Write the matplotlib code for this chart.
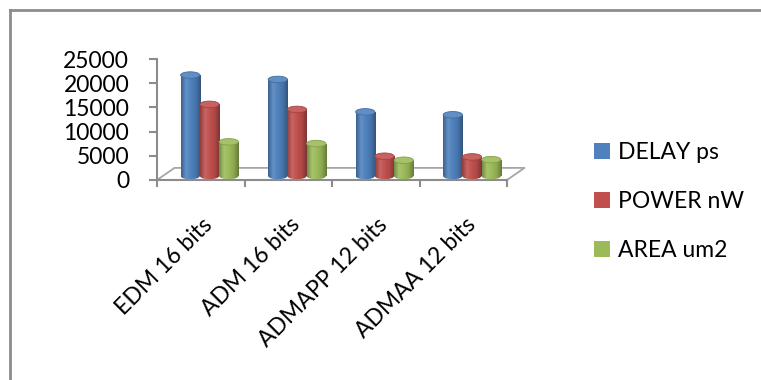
import numpy as np
import matplotlib.pyplot as plt
from matplotlib.colors import LinearSegmentedColormap, to_rgb
from matplotlib.patches import Ellipse
from matplotlib.lines import Line2D

plt.rcParams['font.family'] = ['Lato', 'DejaVu Sans']

# data
categories = ['EDM 16 bits', 'ADM 16 bits', 'ADMAPP 12 bits', 'ADMAA 12 bits']
series = ['DELAY ps', 'POWER nW', 'AREA um2']
delay = [20850, 19950, 13250, 12650]
power = [14800, 13750, 4080, 3940]
area = [7050, 6700, 3250, 3380]
values = [delay, power, area]
colors = ['#4F81BD', '#C0504D', '#9BBB59']
yticks = [0, 5000, 10000, 15000, 20000, 25000]

fig = plt.figure(figsize=(7.61, 3.80), dpi=100)
W, H = 761, 380
ax = fig.add_axes([157 / W, 1 - 180 / H, 350 / W, 121 / H])

ax.set_xlim(-0.5, len(categories) - 0.5)
ax.set_ylim(0, 25000)

base = 830       # bars stand a bit behind the front edge (3d look)
w = 0.22
shift = 0.1
eh = 1350        # ellipse height of cylinder caps, in y units
fs = 16.5


def mix(c, t, k):
    c = np.array(to_rgb(c))
    return tuple(c + (np.array(t) - c) * k)


x = np.arange(len(categories))
handles = []
for s, (vals, col) in enumerate(zip(values, colors)):
    xs = x + shift + (s - 1) * w
    bars = ax.bar(xs, vals, width=w, bottom=base, color=col, label=series[s], zorder=2)
    handles.append(bars)
    cmap = LinearSegmentedColormap.from_list('cyl', [
        mix(col, (0, 0, 0), 0.25), mix(col, (1, 1, 1), 0.12), col,
        mix(col, (0, 0, 0), 0.1), mix(col, (0, 0, 0), 0.35)])
    grad = np.linspace(0, 1, 64).reshape(1, -1)
    for xc, v, b in zip(xs, vals, bars):
        # bottom cap
        bot = Ellipse((xc, base), w, eh, transform=ax.transData)
        im0 = ax.imshow(grad, cmap=cmap, aspect='auto', zorder=2.5,
                        extent=[xc - w / 2, xc + w / 2, base - eh, base + eh])
        im0.set_clip_path(bot)
        im = ax.imshow(grad, cmap=cmap, aspect='auto', zorder=3,
                       extent=[xc - w / 2, xc + w / 2, base, base + v])
        im.set_clip_path(b)
        ax.add_patch(Ellipse((xc, base + v), w, eh, facecolor=mix(col, (1, 1, 1), 0.1),
                             edgecolor=mix(col, (0, 0, 0), 0.15), lw=0.6, zorder=4))

ax.set_xlim(-0.5, len(categories) - 0.5)
ax.set_ylim(0, 25000)

# floor of the 3d plot
gray = '#8c8c8c'
dx, dy = 0.2, 2500
x0, x1 = -0.5, len(categories) - 0.5
ax.plot([x0, x0 + dx, x1 + dx, x1], [0, dy, dy, 0], color='#a6a6a6', lw=1.3,
        clip_on=False, zorder=1)

for sp in ['top', 'right']:
    ax.spines[sp].set_visible(False)
for sp in ['left', 'bottom']:
    ax.spines[sp].set_color(gray)
    ax.spines[sp].set_linewidth(1.5)

ax.set_yticks(yticks)
ax.set_yticklabels([str(t) for t in yticks])
ax.tick_params(axis='y', direction='out', length=6, width=1.5, color=gray,
               pad=14, labelsize=fs)

ax.set_xticks(np.arange(len(categories) + 1) - 0.5)
ax.set_xticklabels([])
ax.tick_params(axis='x', which='major', direction='out', length=5, width=1.5, color=gray)
ax.set_xticks(x + 0.1, minor=True)
ax.set_xticklabels(categories, minor=True)
ax.tick_params(axis='x', which='minor', length=0, pad=30, labelsize=fs)
for lab in ax.get_xticklabels(minor=True):
    lab.set_rotation(45)
    lab.set_rotation_mode('anchor')
    lab.set_ha('right')
    lab.set_va('center')

ax.legend(handles=handles, loc='upper left', bbox_to_anchor=(594 / W, 1 - 142 / H),
          bbox_transform=fig.transFigure, frameon=False, fontsize=fs,
          borderpad=0, borderaxespad=0, handlelength=0.68, handleheight=0.65,
          handletextpad=0.35, labelspacing=1.22)

# chart border (only top and left visible in the crop)
fig.add_artist(Line2D([10 / W, 1], [1 - 10 / H, 1 - 10 / H], color=gray, lw=2,
                      transform=fig.transFigure))
fig.add_artist(Line2D([10 / W, 10 / W], [0, 1 - 10 / H], color=gray, lw=2,
                      transform=fig.transFigure))

fig.savefig('out.png', dpi=100)
